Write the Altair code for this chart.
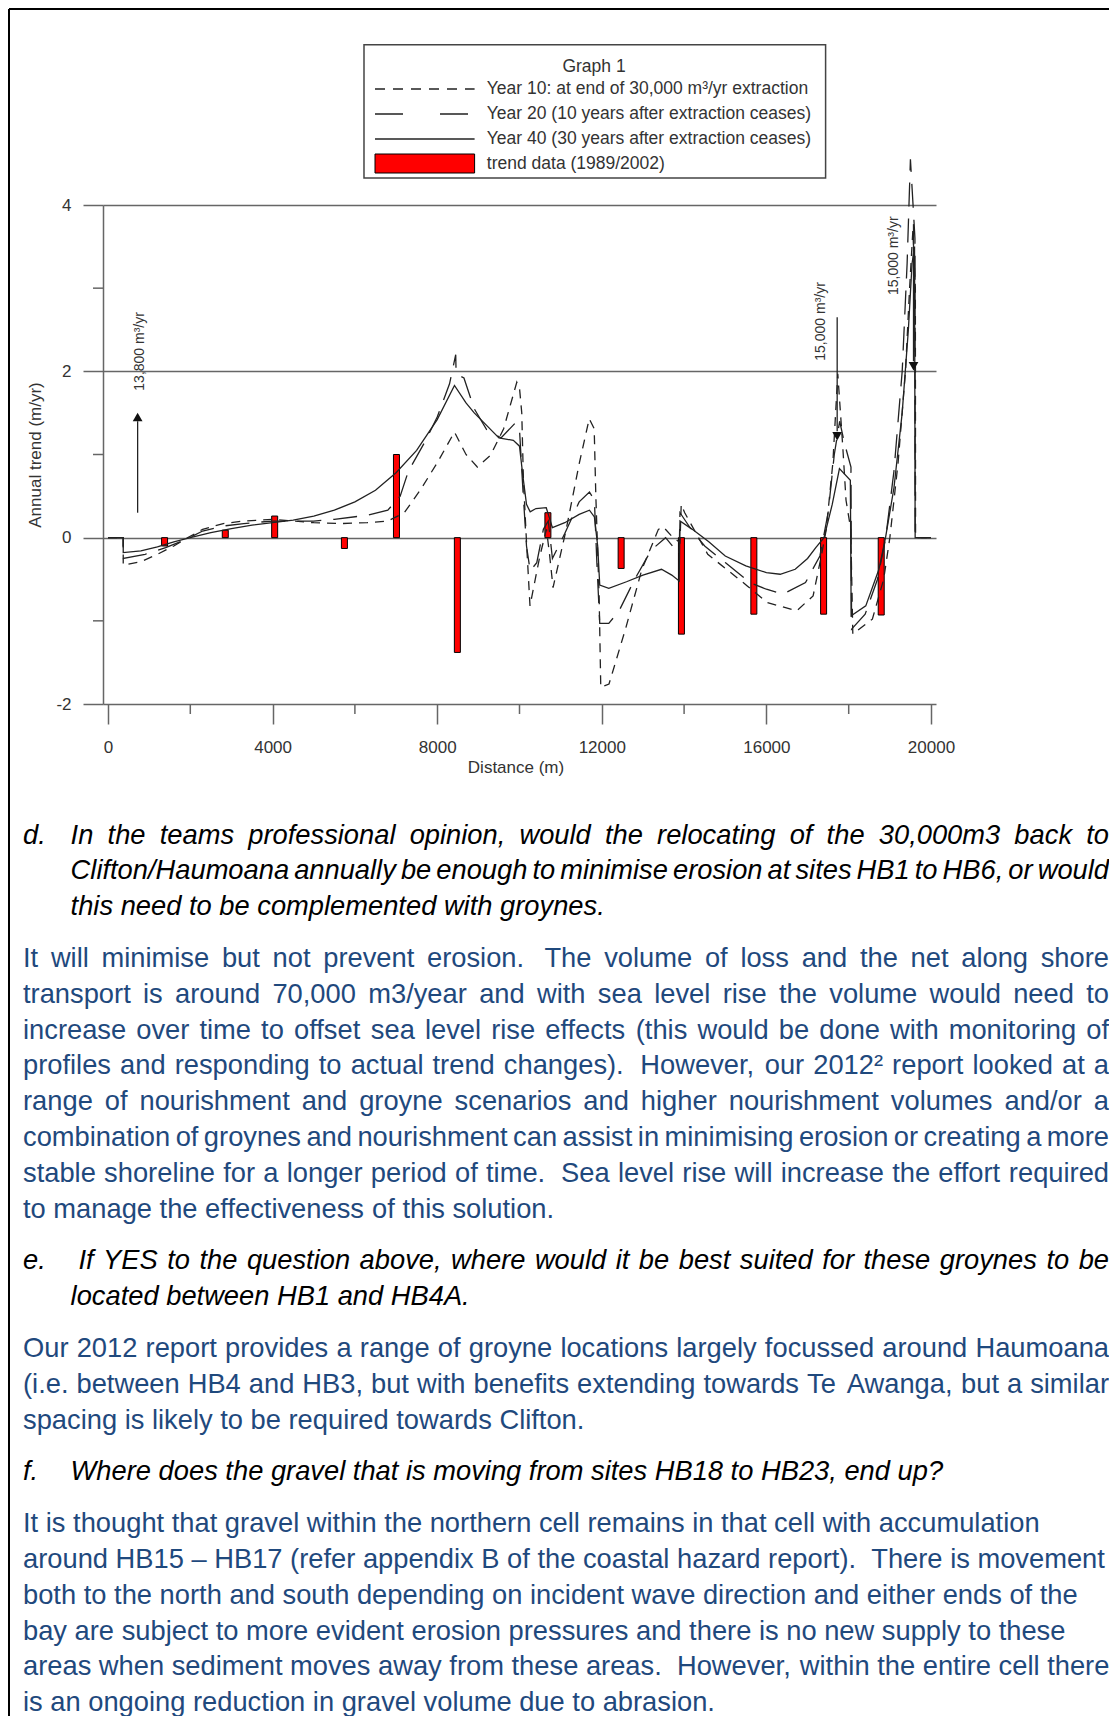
import altair as alt
import pandas as pd

# ---------------- chart data ----------------
y40_dist = [0, 370, 370, 800, 1200, 1600, 2000, 2500, 3000, 3500, 4000, 4500, 5000, 5500, 6000, 6500, 7000,
            7500, 8000, 8420, 8700, 8900, 9200, 9500, 9850, 10000, 10080, 10170, 10260, 10400, 10650, 10800,
            11100, 11450, 11700, 11820, 11900, 11950, 12170, 12600, 13000, 13450, 13700, 13880, 13900, 14200,
            14600, 15000, 15500, 16000, 16335, 16700, 17000, 17200, 17400, 17600, 17775, 18040, 18060, 18415,
            18735, 18895, 19100, 19300, 19450, 19540, 19600, 19615, 20000]
y40_val = [0, 0, -0.18, -0.16, -0.11, -0.05, 0.0, 0.06, 0.11, 0.15, 0.18, 0.21, 0.26, 0.33, 0.43, 0.57, 0.78,
           1.05, 1.42, 1.83, 1.62, 1.5, 1.35, 1.2, 1.17, 1.1, 0.75, 0.4, 0.31, 0.35, 0.36, 0.12,
           0.18, 0.28, 0.33, 0.25, -0.1, -0.57, -0.61, -0.53, -0.45, -0.38, -0.45, -0.52, 0.2, 0.1,
           -0.05, -0.22, -0.34, -0.42, -0.44, -0.38, -0.25, -0.12, 0.0, 0.4, 0.83, 0.69, -0.94, -0.82,
           -0.38, 0.0, 0.6, 1.5, 2.5, 3.3, 3.5, 0, 0]

y20_dist = [0, 370, 370, 900, 1400, 1900, 2300, 2800, 3300, 4000, 5000, 5500, 6300, 6800, 7100, 7300, 7700,
            8000, 8300, 8450, 8460, 8650, 8900, 9200, 9550, 9900, 10000, 10080, 10170, 10260, 10420, 10580,
            10700, 10800, 11100, 11450, 11700, 11820, 11880, 11950, 12170, 12420, 12800, 13200, 13550, 13880,
            13900, 14200, 14500, 15000, 15600, 16000, 16400, 16950, 17300, 17500, 17650, 17780, 17900, 18055,
            18070, 18400, 18700, 18900, 19100, 19300, 19420, 19500, 19610, 19615, 20000]
y20_val = [0, 0, -0.25, -0.2, -0.12, -0.02, 0.08, 0.14, 0.17, 0.2, 0.2, 0.22, 0.27, 0.33, 0.5, 0.8, 1.15,
           1.45, 1.85, 2.2, 1.97, 1.92, 1.55, 1.3, 1.2, 1.38, 1.3, 0.6, -0.1, -0.4, -0.3, 0.1,
           0.2, -0.25, 0.05, 0.43, 0.55, 0.45, -0.3, -1.03, -1.03, -0.88, -0.5, -0.15, 0.0, -0.2,
           0.3, 0.08, -0.1, -0.3, -0.54, -0.62, -0.68, -0.54, -0.22, 0.3, 1.0, 1.4, 1.13, 0.85,
           -1.1, -0.92, -0.5, 0.0, 0.8, 2.0, 3.3, 4.55, 3.6, 0, 0]

y10_dist = [0, 370, 370, 800, 1200, 1600, 1900, 2300, 2800, 3300, 4000, 4500, 5000, 5700, 6300, 6800, 7200,
            7600, 8000, 8420, 8700, 8975, 9295, 9615, 9935, 10000, 10055, 10095, 10175, 10255, 10495, 10655,
            10730, 10815, 11135, 11455, 11695, 11815, 11855, 11935, 11975, 12175, 12575, 12975, 13375, 13495,
            13695, 13900, 13930, 14015, 14575, 15535, 16015, 16735, 17135, 17335, 17455, 17615, 17735, 17855,
            17935, 18050, 18100, 18575, 18850, 19000, 19200, 19380, 19480, 19560, 19620, 19625, 20000]
y10_val = [0, 0, -0.33, -0.29, -0.2, -0.1, -0.01, 0.1, 0.17, 0.2, 0.22, 0.2, 0.18, 0.17, 0.18, 0.2, 0.3,
           0.58, 0.9, 1.27, 1.0, 0.85, 0.99, 1.31, 1.87, 1.8, 1.5, 0.7, -0.1, -0.82, -0.22, 0.1,
           -0.2, -0.6, 0.1, 0.9, 1.43, 1.31, 0.5, -0.7, -1.8, -1.76, -1.1, -0.38, 0.1, 0.13,
           0.02, -0.06, 0.4, 0.3, -0.2, -0.58, -0.78, -0.88, -0.7, -0.22, 0.1, 0.9, 1.97, 1.1,
           0.45, 0.1, -1.16, -0.98, -0.5, 0.0, 0.9, 2.0, 3.0, 3.7, 3.0, 0, 0]

bar_dist = [1375, 2850, 4050, 5745, 7010, 8490, 10690, 12470, 13935, 15695, 17390, 18790]
bar_val = [-0.1, 0.09, 0.26, -0.13, 1.0, -1.38, 0.3, -0.37, -1.16, -0.92, -0.92, -0.93]

arrow_dist = [720, 17720, 19575]
arrow_from = [0.30, 2.65, 3.77]
arrow_to = [1.40, 1.28, 2.12]
arrow_head = [1.45, 1.22, 2.06]
arrow_shape = ["triangle-up", "triangle-down", "triangle-down"]

note_text = ["13,800 m³/yr", "15,000 m³/yr", "15,000 m³/yr"]
note_dist = [785, 17335, 19095]
note_val = [2.24, 2.60, 3.39]

x_major = [0, 4000, 8000, 12000, 16000, 20000]
x_minor = [2000, 6000, 10000, 14000, 18000]
y_major = [-2, 0, 2, 4]
y_minor = [-1, 1, 3]

legend_title = "Graph 1"
legend_labels = ["Year 10: at end of 30,000 m³/yr extraction",
                 "Year 20 (10 years after extraction ceases)",
                 "Year 40 (30 years after extraction ceases)",
                 "trend data (1989/2002)"]

# ---------------- page text ----------------
q_d = ["In the teams professional opinion, would the relocating of the 30,000m3 back to",
       "Clifton/Haumoana annually be enough to minimise erosion at sites HB1 to HB6, or would",
       "this need to be complemented with groynes."]
a_d = ["It will minimise but not prevent erosion.  The volume of loss and the net along shore",
       "transport is around 70,000 m3/year and with sea level rise the volume would need to",
       "increase over time to offset sea level rise effects (this would be done with monitoring of",
       "profiles and responding to actual trend changes).  However, our 2012² report looked at a",
       "range of nourishment and groyne scenarios and higher nourishment volumes and/or a",
       "combination of groynes and nourishment can assist in minimising erosion or creating a more",
       "stable shoreline for a longer period of time.  Sea level rise will increase the effort required",
       "to manage the effectiveness of this solution."]
q_e = ["If YES to the question above, where would it be best suited for these groynes to be",
       "located between HB1 and HB4A."]
a_e = ["Our 2012 report provides a range of groyne locations largely focussed around Haumoana",
       "(i.e. between HB4 and HB3, but with benefits extending towards Te Awanga, but a similar",
       "spacing is likely to be required towards Clifton."]
q_f = ["Where does the gravel that is moving from sites HB18 to HB23, end up?"]
a_f = ["It is thought that gravel within the northern cell remains in that cell with accumulation",
       "around HB15 – HB17 (refer appendix B of the coastal hazard report).  There is movement",
       "both to the north and south depending on incident wave direction and either ends of the",
       "bay are subject to more evident erosion pressures and there is no new supply to these",
       "areas when sediment moves away from these areas.  However, within the entire cell there",
       "is an ongoing reduction in gravel volume due to abrasion."]

# ---------------- layout / style ----------------
OX, OY = 103, 205          # page position of the plot origin
W_PLOT, H_PLOT = 833, 499
SVG_W, SVG_H = 1101, 1708
FONT = "Liberation Sans"
GRID = "#666666"
INK = "#222222"
BLUE = "#1F497D"
BODY = 27.3

# Arial / Liberation Sans advance widths (1/1000 em)
AW = {" ": 278, ".": 278, ",": 278, "(": 333, ")": 333, "/": 278, "-": 333, ":": 278, "?": 556,
      "–": 556, "²": 333, "³": 333, "'": 191}
for ch in "0123456789":
    AW[ch] = 556
AW.update(dict(zip("ABCDEFGHIJKLMNOPQRSTUVWXYZ",
                   [667, 667, 722, 722, 667, 611, 778, 722, 278, 500, 667, 556, 833, 722, 778, 667, 778,
                    722, 667, 611, 722, 667, 944, 667, 667, 611])))
AW.update(dict(zip("abcdefghijklmnopqrstuvwxyz",
                   [556, 556, 500, 556, 556, 278, 556, 556, 222, 222, 500, 222, 833, 556, 556, 556, 556,
                    333, 500, 278, 556, 500, 722, 500, 500, 500])))


def em(s):
    return sum(AW.get(c, 556) for c in s) / 1000.0


def place_line(line, x0, x1, y, justify, kind, rows):
    words, gaps, pending = [], [], 0
    for part in line.split(" "):
        if part == "":
            pending += 1
            continue
        if words:
            gaps.append(pending + 1)
        words.append(part)
        pending = 0
    natural = sum(em(w) for w in words) * BODY + sum(gaps) * em(" ") * BODY
    extra = (x1 - x0 - natural) / len(gaps) if (justify and gaps) else 0.0
    x = x0
    for k, w in enumerate(words):
        rows.append({"w": w, "wx": x - OX, "wy": y - OY, "kind": kind})
        if k < len(gaps):
            x += em(w) * BODY + gaps[k] * em(" ") * BODY + extra


blocks = [
    ("q", "d.", q_d, [70.6, 70.6, 70.6], [True, True, False]),
    ("a", None, a_d, [23.0] * 8, [True] * 7 + [False]),
    ("q", "e.", q_e, [78.4, 70.6], [True, False]),
    ("a", None, a_e, [23.0] * 3, [True, True, False]),
    ("q", "f.", q_f, [70.6], [False]),
    ("a", None, a_f, [23.0] * 6, [False] * 6),
]
rows = []
yc = 835.6
first = True
for kind, label, lines, x0s, just in blocks:
    if not first:
        yc += 51.8 - 35.8
    for i, (ln, x0, j) in enumerate(zip(lines, x0s, just)):
        if not first or i > 0:
            yc += 35.8
        base = yc + 8.0
        if i == 0 and label:
            rows.append({"w": label, "wx": 23.0 - OX, "wy": base - OY, "kind": kind})
        place_line(ln, x0, 1109.0, base, j, kind, rows)
    first = False
words_df = pd.DataFrame(rows)

# ---------------- chart ----------------
xs = alt.Scale(domain=[0, 20000], nice=False, zero=False)
ys = alt.Scale(domain=[-2, 4], nice=False, zero=False)

xaxis = alt.Axis(values=x_major, format="d", tickSize=20, tickWidth=1.5, tickColor=GRID, domain=False,
                 grid=False, labelFont=FONT, labelFontSize=17, labelColor="#333", labelPadding=15,
                 labelFlush=False, labelOverlap=False, title="Distance (m)", titleFont=FONT,
                 titleFontSize=17, titleFontWeight="normal", titleColor="#333", titleX=412.5, titleY=63,
                 titleAlign="center", titleBaseline="middle", titleAngle=0)
yaxis = alt.Axis(values=y_major, labelExpr="'' + datum.value", tickSize=20, tickWidth=1.5, tickColor=GRID,
                 domain=True, domainColor=GRID, domainWidth=1.5, grid=True, gridColor=GRID, gridWidth=1.5,
                 labelFont=FONT, labelFontSize=17, labelColor="#333", labelPadding=12,
                 title="Annual trend (m/yr)", titleFont=FONT, titleFontSize=17, titleFontWeight="normal",
                 titleColor="#333", titleX=-68, titleY=249.5, titleAngle=270, titleAlign="center",
                 titleBaseline="middle")


def X(field):
    return alt.X(field, scale=xs, axis=xaxis)


def Y(field):
    return alt.Y(field, scale=ys, axis=yaxis)


def series(d, v):
    return pd.DataFrame({"d": d, "v": v, "i": list(range(len(d)))})


bars = alt.Chart(pd.DataFrame({"d": bar_dist, "v": bar_val})).mark_bar(
    width=6, color="#FF0000", stroke="#000000", strokeWidth=1).encode(
    x=X("d:Q"), y=Y("v:Q"), y2=alt.datum(0))

xminor = alt.Chart(pd.DataFrame({"t": x_minor})).mark_rule(color=GRID, strokeWidth=1.5).encode(
    x=X("t:Q"), y=alt.value(H_PLOT), y2=alt.value(H_PLOT + 10))
yminor = alt.Chart(pd.DataFrame({"t": y_minor})).mark_rule(color=GRID, strokeWidth=1.5).encode(
    y=Y("t:Q"), x=alt.value(-10), x2=alt.value(0))


def line_layer(df, dash):
    kw = dict(color=INK, strokeWidth=1.3)
    if dash:
        kw["strokeDash"] = dash
    return alt.Chart(df).mark_line(**kw).encode(x=X("d:Q"), y=Y("v:Q"), order="i:Q")


l10 = line_layer(series(y10_dist, y10_val), [9, 7])
l20 = line_layer(series(y20_dist, y20_val), [24, 12])
l40 = line_layer(series(y40_dist, y40_val), None)

arr_df = pd.DataFrame({"d": arrow_dist, "a": arrow_from, "b": arrow_to, "h": arrow_head, "s": arrow_shape})
arrows = alt.Chart(arr_df).mark_rule(color=INK, strokeWidth=1.3).encode(x=X("d:Q"), y=Y("a:Q"), y2="b:Q")
heads = alt.Chart(arr_df).mark_point(filled=True, color="#111111", size=95, opacity=1).encode(
    x=X("d:Q"), y=Y("h:Q"), shape=alt.Shape("s:N", scale=None))
notes = alt.Chart(pd.DataFrame({"d": note_dist, "v": note_val, "t": note_text})).mark_text(
    angle=270, font=FONT, fontSize=14, color="#333", align="center", baseline="middle").encode(
    x=X("d:Q"), y=Y("v:Q"), text="t:N")

# legend box
one = pd.DataFrame({"t": [legend_title]})
ROW0, ROWSTEP = -116, 25
lbox = alt.Chart(one).mark_rect(fill="white", stroke="#444", strokeWidth=1.5).encode(
    x=alt.value(261), x2=alt.value(722.6), y=alt.value(-160.3), y2=alt.value(-27))
ltitle = alt.Chart(one).mark_text(font=FONT, fontSize=17.5, color="#333", align="center",
                                  baseline="middle").encode(x=alt.value(491), y=alt.value(-138.5), text="t:N")
leg_df = pd.DataFrame({"t": legend_labels, "ry": [ROW0 + ROWSTEP * k for k in range(len(legend_labels))]})
ltext = alt.Chart(leg_df).mark_text(font=FONT, fontSize=17.5, color="#333", align="left",
                                    baseline="middle").encode(
    x=alt.value(383.8), y=alt.Y("ry:Q", scale=None, axis=None), text="t:N")


def leg_line(row, dash):
    kw = dict(color=INK, strokeWidth=1.3)
    if dash:
        kw["strokeDash"] = dash
    return alt.Chart(one).mark_rule(**kw).encode(
        x=alt.value(272), x2=alt.value(371.6), y=alt.value(ROW0 + ROWSTEP * row))


lg10 = leg_line(0, [10, 8])
lg20 = leg_line(1, [28, 37])
lg40 = leg_line(2, None)
lgbar = alt.Chart(one).mark_rect(fill="#FF0000", stroke="#000", strokeWidth=1).encode(
    x=alt.value(272), x2=alt.value(371.6), y=alt.value(ROW0 + 3 * ROWSTEP - 10),
    y2=alt.value(ROW0 + 3 * ROWSTEP + 9))

# page border
bl = alt.Chart(one).mark_rule(color="#000", strokeWidth=2).encode(
    x=alt.value(-94), y=alt.value(-196), y2=alt.value(SVG_H - OY + 8))
bt = alt.Chart(one).mark_rule(color="#000", strokeWidth=2).encode(
    x=alt.value(-94), x2=alt.value(SVG_W - OX + 8), y=alt.value(-196))

# body text
txt_q = alt.Chart(words_df[words_df["kind"] == "q"]).mark_text(
    font=FONT, fontSize=BODY, fontStyle="italic", color="#000", align="left", baseline="alphabetic").encode(
    x=alt.X("wx:Q", scale=None, axis=None), y=alt.Y("wy:Q", scale=None, axis=None), text="w:N")
txt_a = alt.Chart(words_df[words_df["kind"] == "a"]).mark_text(
    font=FONT, fontSize=BODY, color=BLUE, align="left", baseline="alphabetic").encode(
    x=alt.X("wx:Q", scale=None, axis=None), y=alt.Y("wy:Q", scale=None, axis=None), text="w:N")

chart = alt.layer(bars, xminor, yminor, l10, l20, l40, arrows, heads, notes,
                  lbox, ltitle, ltext, lg10, lg20, lg40, lgbar, bl, bt, txt_q, txt_a).properties(
    width=W_PLOT, height=H_PLOT,
    autosize=alt.AutoSizeParams(type="none"),
    padding={"left": OX - 8, "top": OY - 8, "right": SVG_W - (OX - 8) - W_PLOT,
             "bottom": SVG_H - (OY - 8) - H_PLOT},
).configure_view(stroke=None)

chart.save("out.html", embed_options={"renderer": "svg", "actions": False})
